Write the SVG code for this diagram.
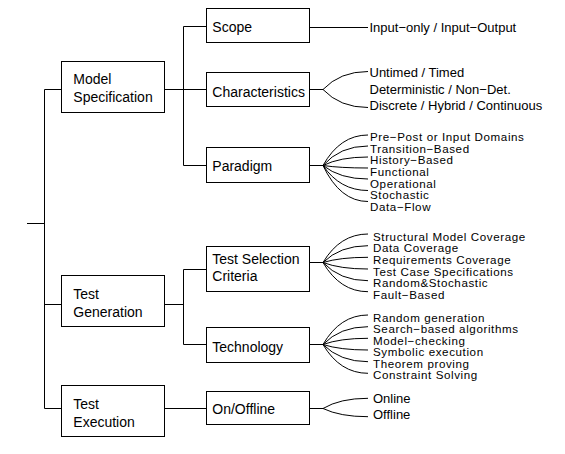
<svg xmlns="http://www.w3.org/2000/svg" width="565" height="454" viewBox="0 0 565 454">
<style>
.n{fill:#fff;stroke:#000;stroke-width:1}
path{fill:none;stroke:#000;stroke-width:1}
text{font-family:"Liberation Sans",Arial,Helvetica,sans-serif;fill:#000}
.b{font-size:14px}
.l{font-size:13px}
.s{font-size:11.6px;letter-spacing:0.6px}
</style>
<rect width="565" height="454" fill="#fff"/>
<g id="connectors">
<path d="M27,223.5H44.5M44.5,89.5V408.5M44.5,89.5H61.5M44.5,304.5H61.5M44.5,408.5H61.5"/>
<path d="M164.5,89.5H183.5M183.5,26.5V165.5M183.5,26.5H206.5M183.5,89.5H206.5M183.5,165.5H206.5"/>
<path d="M164.5,304.5H183.5M183.5,269.5V344.5M183.5,269.5H206.5M183.5,344.5H206.5"/>
<path d="M164.5,408.5H206.5"/>
<path d="M309.5,27.5H368"/>
<path d="M309.5,89.5H323M323,89.5Q340,71.5 368,71.5M323,89.5Q340,107.5 368,107.5"/>
<path d="M309.5,165.5H323M323,165.5Q340,135 368,135M323,165.5Q340,146 368,146M323,165.5Q340,157 368,157M323,165.5Q340,168 368,168M323,165.5Q340,179 368,179M323,165.5Q340,190.5 368,190.5M323,165.5Q340,201.5 368,201.5"/>
<path d="M309.5,262.5H323M323,262.5Q340,234 368,234M323,262.5Q340,245.7 368,245.7M323,262.5Q340,257.3 368,257.3M323,262.5Q340,269 368,269M323,262.5Q340,280.7 368,280.7M323,262.5Q340,291.7 368,291.7"/>
<path d="M309.5,344.5H323M323,344.5Q340,315 368,315M323,344.5Q340,326.7 368,326.7M323,344.5Q340,338.3 368,338.3M323,344.5Q340,350 368,350M323,344.5Q340,361.7 368,361.7M323,344.5Q340,373.3 368,373.3"/>
<path d="M309.5,408.5H323M323,408.5Q340,398.3 368,398.3M323,408.5Q340,416.7 368,416.7"/>
</g>
<g id="model-spec"><rect class="n" x="61.5" y="61.5" width="103" height="51"/><text class="b" x="73.3" y="84">Model</text><text class="b" x="73.3" y="101.7">Specification</text></g>
<g id="test-gen"><rect class="n" x="61.5" y="275.5" width="103" height="51"/><text class="b" x="73.3" y="299.3">Test</text><text class="b" x="73.3" y="316.7">Generation</text></g>
<g id="test-exec"><rect class="n" x="61.5" y="385.5" width="103" height="51"/><text class="b" x="73.3" y="409.3">Test</text><text class="b" x="73.3" y="426.7">Execution</text></g>
<g id="scope"><rect class="n" x="206.5" y="8.5" width="103" height="34"/><text class="b" x="212.3" y="32.3">Scope</text></g>
<g id="characteristics"><rect class="n" x="206.5" y="72.5" width="103" height="34"/><text class="b" x="212.3" y="96.7">Characteristics</text></g>
<g id="paradigm"><rect class="n" x="206.5" y="147.5" width="103" height="35"/><text class="b" x="212.3" y="170.7">Paradigm</text></g>
<g id="test-selection"><rect class="n" x="206.5" y="246.5" width="103" height="45"/><text class="b" x="212.3" y="264.3">Test Selection</text><text class="b" x="212.3" y="281">Criteria</text></g>
<g id="technology"><rect class="n" x="206.5" y="327.5" width="103" height="35"/><text class="b" x="212.3" y="351.7">Technology</text></g>
<g id="onoffline"><rect class="n" x="206.5" y="391.5" width="103" height="33"/><text class="b" x="212.3" y="414">On/Offline</text></g>
<g id="leaves">
<text class="l" x="369.5" y="32.3">Input−only / Input−Output</text>
<text class="l" x="369.5" y="77.3">Untimed / Timed</text>
<text class="l" x="369.5" y="94">Deterministic / Non−Det.</text>
<text class="l" x="369.5" y="110">Discrete / Hybrid / Continuous</text>
<text class="s" x="370" y="141">Pre−Post or Input Domains</text>
<text class="s" x="370" y="152.7">Transition−Based</text>
<text class="s" x="370" y="164.3">History−Based</text>
<text class="s" x="370" y="176">Functional</text>
<text class="s" x="370" y="187.7">Operational</text>
<text class="s" x="370" y="199.3">Stochastic</text>
<text class="s" x="370" y="211">Data−Flow</text>
<text class="s" x="373" y="240.7">Structural Model Coverage</text>
<text class="s" x="373" y="252.3">Data Coverage</text>
<text class="s" x="373" y="264">Requirements Coverage</text>
<text class="s" x="373" y="275.6">Test Case Specifications</text>
<text class="s" x="373" y="287.3">Random&amp;Stochastic</text>
<text class="s" x="373" y="299">Fault−Based</text>
<text class="s" x="373" y="321.7">Random generation</text>
<text class="s" x="373" y="333.2">Search−based algorithms</text>
<text class="s" x="373" y="344.7">Model−checking</text>
<text class="s" x="373" y="356.2">Symbolic execution</text>
<text class="s" x="373" y="367.8">Theorem proving</text>
<text class="s" x="373" y="379.3">Constraint Solving</text>
<text class="l" x="373" y="403.3">Online</text>
<text class="l" x="373" y="419.3">Offline</text>
</g>
</svg>
